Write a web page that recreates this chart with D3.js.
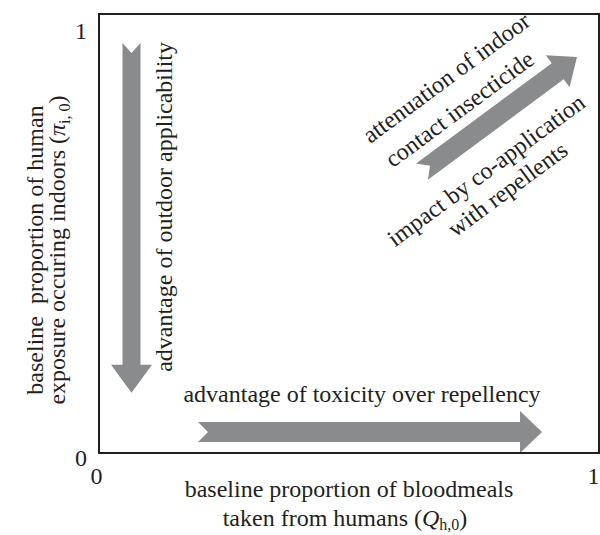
<!DOCTYPE html>
<html>
<head>
<meta charset="utf-8">
<script src="https://cdn.jsdelivr.net/npm/d3@7"></script>
<style>
  body { margin: 0; background: #fff; }
  text { font-family: "Liberation Serif", "Times New Roman", serif; fill: #231f20; }
</style>
</head>
<body>
<svg class="chart"></svg>
<script>
var xTicks = [0, 1];
var yTicks = [0, 1];

// arrows, in axis units: tail -> tip
var outdoorArrow = [[0.065, 0.934], [0.065, 0.137]];
var toxicArrow = [[0.198, 0.048], [0.886, 0.048]];
var diagArrow = [[0.646, 0.641], [0.956, 0.902]];

var outdoorLabel = ["advantage of outdoor applicability"];
var toxicLabel = ["advantage of toxicity over repellency"];
var diagAbove = ["attenuation of indoor", "contact insecticide"];
var diagBelow = ["impact by co-application", "with repellents"];

var svg = d3.select(".chart")
    .attr("width", 600)
    .attr("height", 535);

var x = d3.scaleLinear().domain([0, 1]).range([99, 599]);
var y = d3.scaleLinear().domain([0, 1]).range([453, 14]);

var grey = "#8a8b8d";
var fs = 24;

// arrow polygon along +x, length L
function arrowPoints(L, bw, hw, hl, notch) {
  return [[0, -bw / 2], [L - hl, -bw / 2], [L - hl, -hw / 2], [L, 0],
          [L - hl, hw / 2], [L - hl, bw / 2], [0, bw / 2], [notch, 0]];
}

function drawArrow(a, bw, hw, hl) {
  var x0 = x(a[0][0]), y0 = y(a[0][1]), x1 = x(a[1][0]), y1 = y(a[1][1]);
  var L = Math.hypot(x1 - x0, y1 - y0);
  var ang = Math.atan2(y1 - y0, x1 - x0) * 180 / Math.PI;
  svg.append("polygon")
    .attr("points", arrowPoints(L, bw, hw, hl, 10).map(function(p) { return p.join(","); }).join(" "))
    .attr("fill", grey)
    .attr("transform", "translate(" + x0 + "," + y0 + ") rotate(" + ang + ")");
  return {mx: (x0 + x1) / 2, my: (y0 + y1) / 2, ang: ang};
}

var a1 = drawArrow(outdoorArrow, 18, 41, 28);
var a2 = drawArrow(toxicArrow, 20, 42, 22);
var a3 = drawArrow(diagArrow, 20, 40, 24);

// frame
svg.append("rect")
  .attr("x", x(0)).attr("y", y(1))
  .attr("width", x(1) - x(0)).attr("height", y(0) - y(1))
  .attr("fill", "none")
  .attr("stroke", "#231f20")
  .attr("stroke-width", 2);

// axes (labels only)
var yAxis = svg.append("g")
  .attr("transform", "translate(" + x(0) + ",0)")
  .call(d3.axisLeft(y).tickValues(yTicks).tickSize(0).tickPadding(12).tickFormat(d3.format("d")));
yAxis.select(".domain").remove();
yAxis.selectAll("text")
  .attr("font-size", fs)
  .attr("dy", function(d) { return d === 1 ? "1.0em" : "0.5em"; });

var xAxis = svg.append("g")
  .attr("transform", "translate(-3," + y(0) + ")")
  .call(d3.axisBottom(x).tickValues(xTicks).tickSize(0).tickPadding(14).tickFormat(d3.format("d")));
xAxis.select(".domain").remove();
xAxis.selectAll("text")
  .attr("font-size", fs)
  .attr("dx", function(d) { return d === 1 ? -3 : 0; });

// arrow labels
svg.selectAll(".outdoor").data(outdoorLabel).enter().append("text")
  .attr("class", "outdoor")
  .attr("font-size", fs)
  .attr("text-anchor", "middle")
  .attr("transform", "translate(" + (a1.mx + 40) + "," + (a1.my - 11) + ") rotate(-90)")
  .text(function(d) { return d; });

svg.selectAll(".toxic").data(toxicLabel).enter().append("text")
  .attr("class", "toxic")
  .attr("font-size", fs)
  .attr("text-anchor", "middle")
  .attr("x", a2.mx - 8)
  .attr("y", a2.my - 30)
  .text(function(d) { return d; });

var dg = svg.append("g")
  .attr("transform", "translate(" + a3.mx + "," + a3.my + ") rotate(" + a3.ang + ")");

dg.selectAll(".above").data(diagAbove).enter().append("text")
  .attr("class", "above")
  .attr("font-size", fs)
  .attr("text-anchor", "middle")
  .attr("x", function(d, i) { return i ? -29 : -21; })
  .attr("y", function(d, i) { return i ? -20 : -53; })
  .text(function(d) { return d; });

dg.selectAll(".below").data(diagBelow).enter().append("text")
  .attr("class", "below")
  .attr("font-size", fs)
  .attr("text-anchor", "middle")
  .attr("x", function(d, i) { return i ? -38 : -44; })
  .attr("y", function(d, i) { return i ? 73 : 45; })
  .text(function(d) { return d; });

// axis titles
var xt = svg.append("text")
  .attr("font-size", fs)
  .attr("text-anchor", "middle")
  .attr("x", x(0.5))
  .attr("y", 497);
xt.append("tspan").text("baseline proportion of bloodmeals");
var xt2 = svg.append("text")
  .attr("font-size", fs)
  .attr("text-anchor", "middle")
  .attr("x", x(0.5) - 4)
  .attr("y", 526);
xt2.append("tspan").text("taken from humans (");
xt2.append("tspan").attr("font-style", "italic").text("Q");
xt2.append("tspan").attr("font-size", 16).attr("dy", 4).text("h,0");
xt2.append("tspan").attr("dy", -4).text(")");

var yt = svg.append("g")
  .attr("transform", "translate(43," + 250 + ") rotate(-90)");
yt.append("text")
  .attr("font-size", fs)
  .attr("text-anchor", "middle")
  .attr("xml:space", "preserve")
  .style("white-space", "pre")
  .text("baseline  proportion of human");
var yl2 = yt.append("text")
  .attr("font-size", fs)
  .attr("text-anchor", "middle")
  .attr("y", 22);
yl2.append("tspan").text("exposure occuring indoors (");
yl2.append("tspan").attr("font-style", "italic").text("\u03c0");
yl2.append("tspan").attr("font-size", 16).attr("dy", 5).text("i, 0");
yl2.append("tspan").attr("dy", -5).text(")");
</script>
</body>
</html>
